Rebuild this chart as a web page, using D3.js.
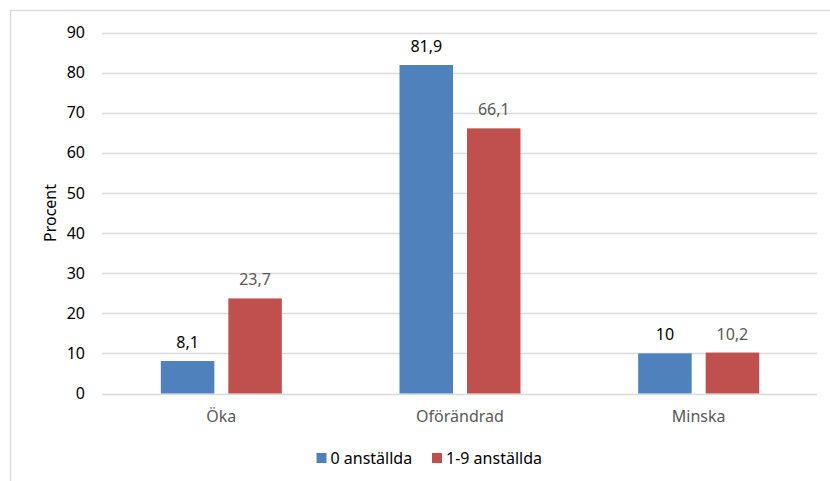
<!DOCTYPE html>
<html>
<head>
<meta charset="utf-8">
<script src="https://cdn.jsdelivr.net/npm/d3@7"></script>
<style>
  html, body { margin: 0; padding: 0; background: #fff; }
  svg { display: block; }
  text { font-family: "Noto Sans", "Open Sans", sans-serif; }
</style>
</head>
<body>
<svg id="chart" width="830" height="481"></svg>
<script>
const categories = ["Öka", "Oförändrad", "Minska"];
const seriesNames = ["0 anställda", "1-9 anställda"];
const series0 = [8.1, 81.9, 10];
const series1 = [23.7, 66.1, 10.2];
const labels0 = ["8,1", "81,9", "10"];
const labels1 = ["23,7", "66,1", "10,2"];
const yTicks = [0, 10, 20, 30, 40, 50, 60, 70, 80, 90];
const yTitle = "Procent";

const colors = ["#4F81BD", "#C0504D"];
const labelColors = ["#000000", "#595959"];

const svg = d3.select("#chart");
const m = { left: 102, right: 818, top: 32.5, bottom: 393.5 };

// outer frame
svg.append("rect")
  .attr("x", 10.5).attr("y", 10.5)
  .attr("width", 830).attr("height", 490)
  .attr("fill", "none").attr("stroke", "#d9d9d9").attr("stroke-width", 1.3);

const x = d3.scaleBand().domain(categories).range([m.left, m.right]).paddingInner(0).paddingOuter(0);
const y = d3.scaleLinear().domain([0, 90]).range([m.bottom, m.top]);

// gridlines
svg.append("g").selectAll("line").data(yTicks).join("line")
  .attr("x1", m.left).attr("x2", m.right - 1)
  .attr("y1", d => Math.round(y(d)) + 0.5).attr("y2", d => Math.round(y(d)) + 0.5)
  .attr("stroke", "#d9d9d9").attr("stroke-width", 1.3);

// y axis tick labels
const yAxis = d3.axisLeft(y).tickValues(yTicks).tickSize(0).tickPadding(0).tickFormat(d => d);
const ga = svg.append("g").attr("transform", `translate(${m.left - 17},0)`).call(yAxis);
ga.select(".domain").remove();
ga.selectAll("text").attr("font-size", 16).attr("fill", "#000")
  .attr("font-family", "'Noto Sans', sans-serif");

// y title
svg.append("text")
  .attr("transform", `translate(${56},${(m.top + m.bottom) / 2}) rotate(-90)`)
  .attr("text-anchor", "middle")
  .attr("font-size", 16).attr("fill", "#000")
  .text(yTitle);

// bars
const barW = 53.5, gap = 14;
const seriesData = [series0, series1];
const seriesLabels = [labels0, labels1];
seriesData.forEach((vals, si) => {
  const offset = (x.bandwidth() - (2 * barW + gap)) / 2 + si * (barW + gap);
  svg.append("g").selectAll("rect").data(vals).join("rect")
    .attr("x", (d, i) => x(categories[i]) + offset)
    .attr("y", d => y(d))
    .attr("width", barW)
    .attr("height", d => y(0) - y(d))
    .attr("fill", colors[si]);
  svg.append("g").selectAll("text").data(vals).join("text")
    .attr("x", (d, i) => x(categories[i]) + offset + barW / 2)
    .attr("y", d => y(d) - 13)
    .attr("text-anchor", "middle")
    .attr("font-size", 16)
    .attr("fill", labelColors[si])
    .text((d, i) => seriesLabels[si][i]);
});

// x category labels
const xAxis = d3.axisBottom(x).tickSize(0).tickPadding(0);
const gx = svg.append("g").attr("transform", `translate(0,${m.bottom + 28})`).call(xAxis);
gx.select(".domain").remove();
gx.selectAll("text").attr("font-size", 16).attr("fill", "#595959")
  .attr("font-family", "'Noto Sans', sans-serif").attr("dy", 0);

// legend
const legendX = [316.5, 432];
const lg = svg.append("g");
seriesNames.forEach((name, i) => {
  lg.append("rect").attr("x", legendX[i]).attr("y", 453).attr("width", 10).attr("height", 10).attr("fill", colors[i]);
  lg.append("text").attr("x", legendX[i] + 14).attr("y", 463.5)
    .attr("font-size", 16).attr("fill", "#000").text(name);
});
</script>
</body>
</html>
